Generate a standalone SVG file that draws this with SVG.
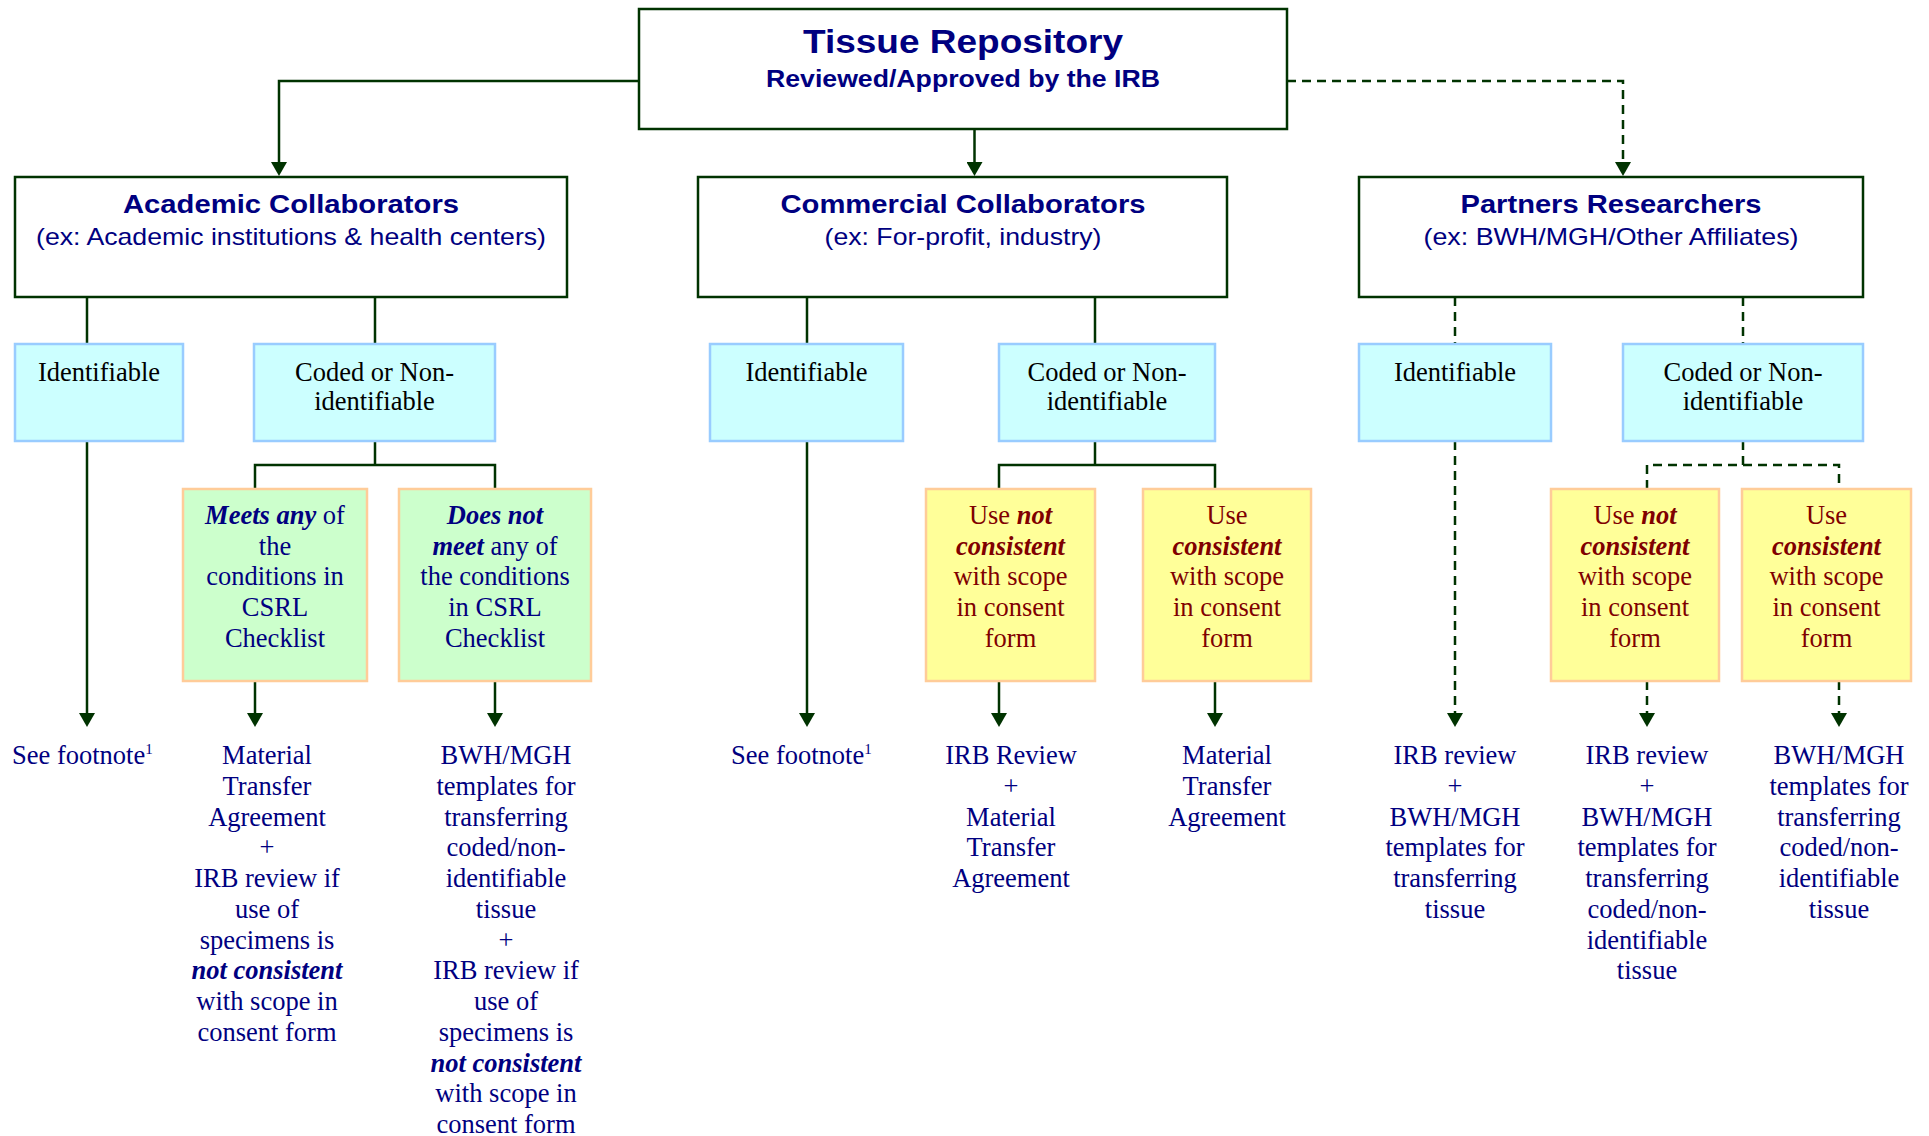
<svg xmlns="http://www.w3.org/2000/svg" width="1929" height="1136" viewBox="0 0 1929 1136">
<defs>
<style>
.main{fill:#ffffff;stroke:#003300;stroke-width:2.5}
.cyan{fill:#ccffff;stroke:#99ccff;stroke-width:2.5}
.green{fill:#ccffcc;stroke:#ffcc99;stroke-width:2.5}
.yellow{fill:#ffff99;stroke:#ffcc99;stroke-width:2.5}
.sansb{font-family:"Liberation Sans",Arial,sans-serif;font-weight:bold;fill:#000080;text-anchor:middle}
.sans{font-family:"Liberation Sans",Arial,sans-serif;fill:#000080;text-anchor:middle}
.ser{font-family:"Liberation Serif","Times New Roman",serif;font-size:26.5px;text-anchor:middle}
.left{text-anchor:start}
.blk{fill:#000000}
.nav{fill:#000080}
.red{fill:#800000}
.bi{font-weight:bold;font-style:italic}
.ln{fill:none;stroke:#003300;stroke-width:2.5}
.dash{stroke-dasharray:9 6}
</style>
<marker id="arr" markerUnits="userSpaceOnUse" markerWidth="16" markerHeight="16" refX="4" refY="8" orient="auto">
<path d="M0,0 L14,8 L0,16 Z" fill="#003300"/>
</marker>
</defs>
<rect width="1929" height="1136" fill="#ffffff"/>

<g id="connectors">
<path class="ln" d="M639,81 H279 V166" marker-end="url(#arr)"/>
<path class="ln" d="M974.5,129 V166" marker-end="url(#arr)"/>
<path class="ln dash" d="M1287,81 H1623 V166" marker-end="url(#arr)"/>
<path class="ln" d="M87,297 V344 M375,297 V344"/>
<path class="ln" d="M87,441 V717" marker-end="url(#arr)"/>
<path class="ln" d="M375,441 V465 M255,489 V465 H495 V489"/>
<path class="ln" d="M255,681 V717" marker-end="url(#arr)"/>
<path class="ln" d="M495,681 V717" marker-end="url(#arr)"/>
<path class="ln" d="M807,297 V344 M1095,297 V344"/>
<path class="ln" d="M807,441 V717" marker-end="url(#arr)"/>
<path class="ln" d="M1095,441 V465 M999,489 V465 H1215 V489"/>
<path class="ln" d="M999,681 V717" marker-end="url(#arr)"/>
<path class="ln" d="M1215,681 V717" marker-end="url(#arr)"/>
<path class="ln dash" d="M1455,297 V344 M1743,297 V344"/>
<path class="ln dash" d="M1455,441 V717" marker-end="url(#arr)"/>
<path class="ln dash" d="M1743,441 V465 M1647,489 V465 H1839 V489"/>
<path class="ln dash" d="M1647,681 V717" marker-end="url(#arr)"/>
<path class="ln dash" d="M1839,681 V717" marker-end="url(#arr)"/>
</g>

<g id="root">
<rect class="main" x="639" y="9" width="648" height="120"/>
<text class="sansb" x="963" y="53" font-size="33" textLength="320" lengthAdjust="spacingAndGlyphs">Tissue Repository</text>
<text class="sansb" x="963" y="87" font-size="24" textLength="394" lengthAdjust="spacingAndGlyphs">Reviewed/Approved by the IRB</text>
</g>

<g id="academic">
<rect class="main" x="15" y="177" width="552" height="120"/>
<text class="sansb" x="291" y="213" font-size="26" textLength="336" lengthAdjust="spacingAndGlyphs">Academic Collaborators</text>
<text class="sans" x="291" y="245" font-size="24" textLength="510" lengthAdjust="spacingAndGlyphs">(ex: Academic institutions &amp; health centers)</text>
</g>

<g id="commercial">
<rect class="main" x="698" y="177" width="529" height="120"/>
<text class="sansb" x="963" y="213" font-size="26" textLength="365" lengthAdjust="spacingAndGlyphs">Commercial Collaborators</text>
<text class="sans" x="963" y="245" font-size="24" textLength="277" lengthAdjust="spacingAndGlyphs">(ex: For-profit, industry)</text>
</g>

<g id="partners">
<rect class="main" x="1359" y="177" width="504" height="120"/>
<text class="sansb" x="1611" y="213" font-size="26" textLength="301" lengthAdjust="spacingAndGlyphs">Partners Researchers</text>
<text class="sans" x="1611" y="245" font-size="24" textLength="375" lengthAdjust="spacingAndGlyphs">(ex: BWH/MGH/Other Affiliates)</text>
</g>

<g id="acad-identifiable">
<rect class="cyan" x="15" y="344" width="168" height="97"/>
<text class="ser blk" x="99" y="381">Identifiable</text>
</g>
<g id="acad-coded">
<rect class="cyan" x="254" y="344" width="241" height="97"/>
<text class="ser blk" x="374.5" y="381">Coded or Non-</text>
<text class="ser blk" x="374.5" y="410">identifiable</text>
</g>
<g id="comm-identifiable">
<rect class="cyan" x="710" y="344" width="193" height="97"/>
<text class="ser blk" x="806.5" y="381">Identifiable</text>
</g>
<g id="comm-coded">
<rect class="cyan" x="999" y="344" width="216" height="97"/>
<text class="ser blk" x="1107" y="381">Coded or Non-</text>
<text class="ser blk" x="1107" y="410">identifiable</text>
</g>
<g id="part-identifiable">
<rect class="cyan" x="1359" y="344" width="192" height="97"/>
<text class="ser blk" x="1455" y="381">Identifiable</text>
</g>
<g id="part-coded">
<rect class="cyan" x="1623" y="344" width="240" height="97"/>
<text class="ser blk" x="1743" y="381">Coded or Non-</text>
<text class="ser blk" x="1743" y="410">identifiable</text>
</g>

<g id="meets-any">
<rect class="green" x="183" y="489" width="184" height="192"/>
<text class="ser nav" x="275" y="524"><tspan class="bi">Meets any</tspan> of</text>
<text class="ser nav" x="275" y="554.7">the</text>
<text class="ser nav" x="275" y="585.4">conditions in</text>
<text class="ser nav" x="275" y="616.1">CSRL</text>
<text class="ser nav" x="275" y="646.8">Checklist</text>
</g>
<g id="does-not-meet">
<rect class="green" x="399" y="489" width="192" height="192"/>
<text class="ser nav" x="495" y="524"><tspan class="bi">Does not</tspan></text>
<text class="ser nav" x="495" y="554.7"><tspan class="bi">meet</tspan> any of</text>
<text class="ser nav" x="495" y="585.4">the conditions</text>
<text class="ser nav" x="495" y="616.1">in CSRL</text>
<text class="ser nav" x="495" y="646.8">Checklist</text>
</g>

<g id="comm-not-consistent">
<rect class="yellow" x="926" y="489" width="169" height="192"/>
<text class="ser red" x="1010.5" y="524">Use <tspan class="bi">not</tspan></text>
<text class="ser red bi" x="1010.5" y="554.7">consistent</text>
<text class="ser red" x="1010.5" y="585.4">with scope</text>
<text class="ser red" x="1010.5" y="616.1">in consent</text>
<text class="ser red" x="1010.5" y="646.8">form</text>
</g>
<g id="comm-consistent">
<rect class="yellow" x="1143" y="489" width="168" height="192"/>
<text class="ser red" x="1227" y="524">Use</text>
<text class="ser red bi" x="1227" y="554.7">consistent</text>
<text class="ser red" x="1227" y="585.4">with scope</text>
<text class="ser red" x="1227" y="616.1">in consent</text>
<text class="ser red" x="1227" y="646.8">form</text>
</g>
<g id="part-not-consistent">
<rect class="yellow" x="1551" y="489" width="168" height="192"/>
<text class="ser red" x="1635" y="524">Use <tspan class="bi">not</tspan></text>
<text class="ser red bi" x="1635" y="554.7">consistent</text>
<text class="ser red" x="1635" y="585.4">with scope</text>
<text class="ser red" x="1635" y="616.1">in consent</text>
<text class="ser red" x="1635" y="646.8">form</text>
</g>
<g id="part-consistent">
<rect class="yellow" x="1742" y="489" width="169" height="192"/>
<text class="ser red" x="1826.5" y="524">Use</text>
<text class="ser red bi" x="1826.5" y="554.7">consistent</text>
<text class="ser red" x="1826.5" y="585.4">with scope</text>
<text class="ser red" x="1826.5" y="616.1">in consent</text>
<text class="ser red" x="1826.5" y="646.8">form</text>
</g>

<g id="acad-footnote">
<text class="ser nav left" x="12" y="764">See footnote<tspan font-size="15" dy="-10">1</tspan></text>
</g>
<g id="acad-mta">
<text class="ser nav" x="267" y="764">Material</text>
<text class="ser nav" x="267" y="794.75">Transfer</text>
<text class="ser nav" x="267" y="825.5">Agreement</text>
<text class="ser nav" x="267" y="856.25">+</text>
<text class="ser nav" x="267" y="887">IRB review if</text>
<text class="ser nav" x="267" y="917.75">use of</text>
<text class="ser nav" x="267" y="948.5">specimens is</text>
<text class="ser nav bi" x="267" y="979.25">not consistent</text>
<text class="ser nav" x="267" y="1010">with scope in</text>
<text class="ser nav" x="267" y="1040.75">consent form</text>
</g>
<g id="acad-templates">
<text class="ser nav" x="506" y="764">BWH/MGH</text>
<text class="ser nav" x="506" y="794.75">templates for</text>
<text class="ser nav" x="506" y="825.5">transferring</text>
<text class="ser nav" x="506" y="856.25">coded/non-</text>
<text class="ser nav" x="506" y="887">identifiable</text>
<text class="ser nav" x="506" y="917.75">tissue</text>
<text class="ser nav" x="506" y="948.5">+</text>
<text class="ser nav" x="506" y="979.25">IRB review if</text>
<text class="ser nav" x="506" y="1010">use of</text>
<text class="ser nav" x="506" y="1040.75">specimens is</text>
<text class="ser nav bi" x="506" y="1071.5">not consistent</text>
<text class="ser nav" x="506" y="1102.25">with scope in</text>
<text class="ser nav" x="506" y="1133">consent form</text>
</g>

<g id="comm-footnote">
<text class="ser nav left" x="731" y="764">See footnote<tspan font-size="15" dy="-10">1</tspan></text>
</g>
<g id="comm-irb-mta">
<text class="ser nav" x="1011" y="764">IRB Review</text>
<text class="ser nav" x="1011" y="794.75">+</text>
<text class="ser nav" x="1011" y="825.5">Material</text>
<text class="ser nav" x="1011" y="856.25">Transfer</text>
<text class="ser nav" x="1011" y="887">Agreement</text>
</g>
<g id="comm-mta">
<text class="ser nav" x="1227" y="764">Material</text>
<text class="ser nav" x="1227" y="794.75">Transfer</text>
<text class="ser nav" x="1227" y="825.5">Agreement</text>
</g>

<g id="part-irb-tissue">
<text class="ser nav" x="1455" y="764">IRB review</text>
<text class="ser nav" x="1455" y="794.75">+</text>
<text class="ser nav" x="1455" y="825.5">BWH/MGH</text>
<text class="ser nav" x="1455" y="856.25">templates for</text>
<text class="ser nav" x="1455" y="887">transferring</text>
<text class="ser nav" x="1455" y="917.75">tissue</text>
</g>
<g id="part-irb-coded">
<text class="ser nav" x="1647" y="764">IRB review</text>
<text class="ser nav" x="1647" y="794.75">+</text>
<text class="ser nav" x="1647" y="825.5">BWH/MGH</text>
<text class="ser nav" x="1647" y="856.25">templates for</text>
<text class="ser nav" x="1647" y="887">transferring</text>
<text class="ser nav" x="1647" y="917.75">coded/non-</text>
<text class="ser nav" x="1647" y="948.5">identifiable</text>
<text class="ser nav" x="1647" y="979.25">tissue</text>
</g>
<g id="part-templates">
<text class="ser nav" x="1839" y="764">BWH/MGH</text>
<text class="ser nav" x="1839" y="794.75">templates for</text>
<text class="ser nav" x="1839" y="825.5">transferring</text>
<text class="ser nav" x="1839" y="856.25">coded/non-</text>
<text class="ser nav" x="1839" y="887">identifiable</text>
<text class="ser nav" x="1839" y="917.75">tissue</text>
</g>
</svg>
